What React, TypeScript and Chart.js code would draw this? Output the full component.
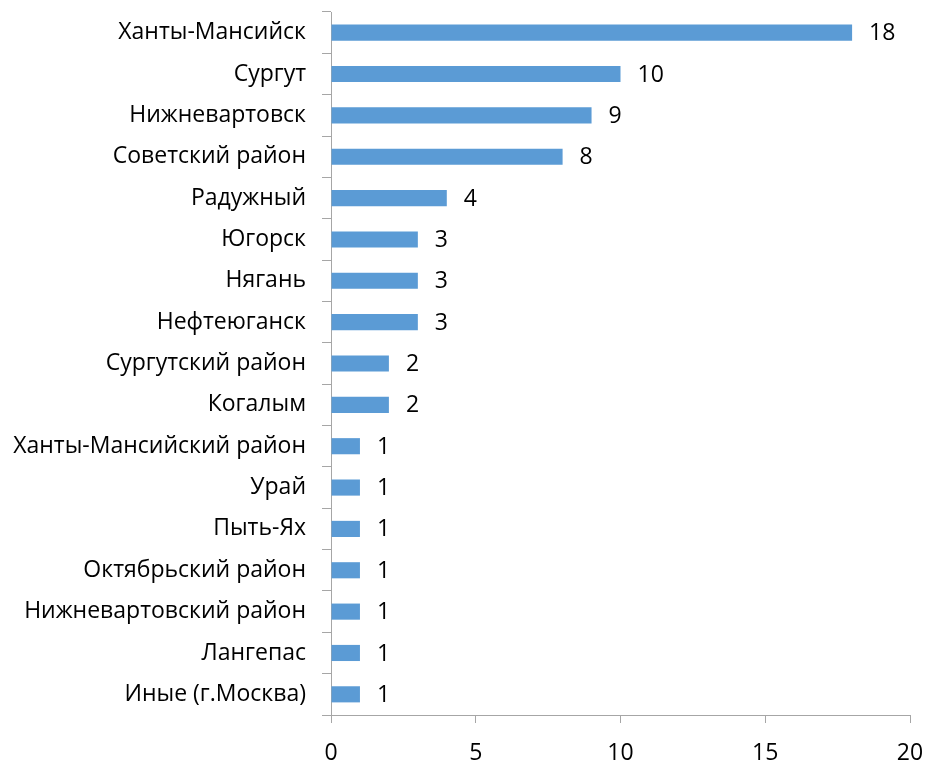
import React, { useEffect, useRef } from "react";
import { Chart, registerables } from "chart.js";

Chart.register(...registerables);

const categories = [
  "Ханты-Мансийск",
  "Сургут",
  "Нижневартовск",
  "Советский район",
  "Радужный",
  "Югорск",
  "Нягань",
  "Нефтеюганск",
  "Сургутский район",
  "Когалым",
  "Ханты-Мансийский район",
  "Урай",
  "Пыть-Ях",
  "Октябрьский район",
  "Нижневартовский район",
  "Лангепас",
  "Иные (г.Москва)",
];
const values = [18, 10, 9, 8, 4, 3, 3, 3, 2, 2, 1, 1, 1, 1, 1, 1, 1];
const xMin = 0;
const xMax = 20;
const xStep = 5;

const FONT = "'Open Sans', sans-serif";
const FONT_SIZE = 23;

const labelPlugin = {
  id: "barLabels",
  afterDatasetsDraw(chart: any) {
    const ctx = chart.ctx;
    const meta = chart.getDatasetMeta(0);
    ctx.save();
    ctx.font = `${FONT_SIZE}px ${FONT}`;
    ctx.fillStyle = "#000";
    ctx.textAlign = "left";
    ctx.textBaseline = "middle";
    meta.data.forEach((bar: any, i: number) => {
      ctx.fillText(String(values[i]), bar.x + 17, bar.y + 1);
    });
    ctx.restore();
  },
};

export default function App() {
  const ref = useRef<HTMLCanvasElement | null>(null);
  useEffect(() => {
    if (!ref.current) return;
    const chart = new Chart(ref.current, {
      type: "bar",
      data: {
        labels: categories,
        datasets: [
          {
            data: values,
            backgroundColor: "#5b9bd5",
            barPercentage: 0.39,
            categoryPercentage: 1,
          },
        ],
      },
      options: {
        indexAxis: "y",
        animation: false,
        responsive: false,
        maintainAspectRatio: false,
        layout: { padding: { top: 12, right: 17, bottom: 0, left: 0 } },
        plugins: { legend: { display: false }, tooltip: { enabled: false } },
        scales: {
          x: {
            min: xMin,
            max: xMax,
            ticks: {
              stepSize: xStep,
              color: "#000",
              font: { family: FONT, size: FONT_SIZE },
              padding: 17,
            },
            grid: {
              display: true,
              drawOnChartArea: false,
              drawTicks: true,
              tickLength: 8,
              color: "#a6a6a6",
            },
            border: { display: true, color: "#a6a6a6", width: 1 },
            afterFit(scale: any) {
              scale.height = 45;
              scale.paddingLeft = 0;
              scale.paddingRight = 0;
            },
          },
          y: {
            ticks: {
              color: "#000",
              font: { family: FONT, size: FONT_SIZE },
              padding: 16,
            },
            grid: {
              display: true,
              drawOnChartArea: false,
              drawTicks: true,
              tickLength: 9,
              offset: true,
              color: "#a6a6a6",
            },
            border: { display: true, color: "#a6a6a6", width: 1 },
            afterFit(scale: any) {
              scale.width = 331;
              scale.paddingTop = 0;
              scale.paddingBottom = 0;
            },
          },
        },
      },
      plugins: [labelPlugin],
    });
    return () => chart.destroy();
  }, []);
  return (
    <div style={{ position: "fixed", left: 0, top: 0, width: 927, height: 760, background: "#fff" }}>
      <canvas ref={ref} width={927} height={760} style={{ display: "block" }} />
    </div>
  );
}
